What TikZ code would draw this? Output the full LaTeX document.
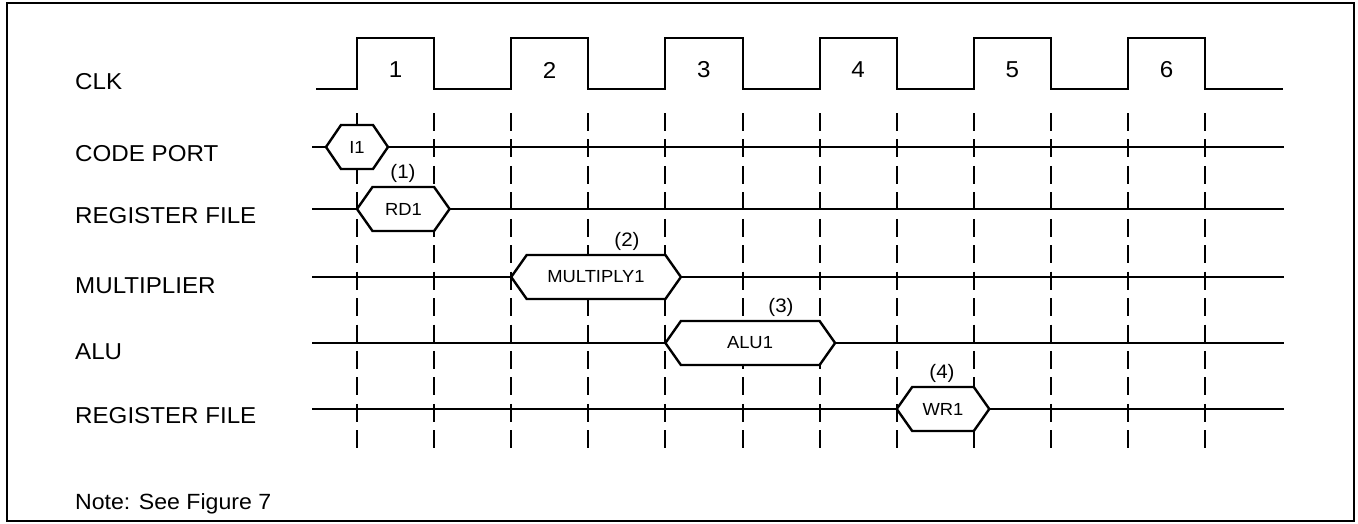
\documentclass[tikz,border=0pt]{standalone}
\usepackage{fontspec}
\setmainfont{Liberation Sans}[FakeStretch=1.05]
\newcommand\tdhex[4][15.5]{%
  \draw[hex] (#2,#4) -- ({#2+#1},{#4-22}) -- (#3,{#4-22}) -- ({#3+#1},#4)
    -- (#3,{#4+22}) -- ({#2+#1},{#4+22}) -- cycle;}
\begin{document}
\begin{tikzpicture}[x=1pt,y=-1pt,
  wire/.style={line width=2pt},
  gridline/.style={line width=2pt, dash pattern=on 18pt off 8.44pt},
  hex/.style={line width=2.4pt, fill=white, line join=miter},
  lbl/.style={anchor=base west, inner sep=0pt, font=\fontsize{23}{27}\selectfont},
  notestyle/.style={anchor=base west, inner sep=0pt, font=\fontsize{22}{26}\selectfont},
  num/.style={inner sep=0pt, font=\fontsize{23}{27}\selectfont},
  tag/.style={inner sep=0pt, font=\fontsize{19.5}{23}\selectfont},
  htext/.style={inner sep=0pt, font=\fontsize{17.5}{21}\selectfont}]
\useasboundingbox (0,0) rectangle (1358,523);
% frame
\draw[line width=2pt] (7,3) rectangle (1354,521);
% dashed clock edges
\foreach \k in {0,...,11}{
  \pgfmathsetmacro\xx{357+77.1*\k}
  \draw[gridline] (\xx,113) -- (\xx,448);
}
% clock waveform
\draw[wire] (316,89) -- (357,89) -- (357,38) -- (434.1,38) -- (434.1,89)
  -- (511.2,89) -- (511.2,38) -- (588.3,38) -- (588.3,89)
  -- (665.4,89) -- (665.4,38) -- (742.5,38) -- (742.5,89)
  -- (819.6,89) -- (819.6,38) -- (896.7,38) -- (896.7,89)
  -- (973.8,89) -- (973.8,38) -- (1050.9,38) -- (1050.9,89)
  -- (1128,89) -- (1128,38) -- (1205.1,38) -- (1205.1,89) -- (1283,89);
\node[num] (c1) at (395.5,70) {1};
\node[num] (c2) at (549.7,70) {2};
\node[num] (c3) at (703.9,70) {3};
\node[num] (c4) at (858.1,70) {4};
\node[num] (c5) at (1012.3,70) {5};
\node[num] (c6) at (1166.5,70) {6};
% signal lines
\foreach \yy in {147,209,277,343,409}{
  \draw[wire] (312,\yy) -- (1284,\yy);
}
% labels
\node[lbl] (lclk) at (75,89) {CLK};
\node[lbl] (lcode) at (75,161) {CODE PORT};
\node[lbl] (lreg) at (75,223) {REGISTER FILE};
\node[lbl] (lmul) at (75,293) {MULTIPLIER};
\node[lbl] (lalu) at (75,359) {ALU};
\node[lbl] (lreg2) at (75,423) {REGISTER FILE};
\node[notestyle] (note) at (75,509) {Note: See Figure 7};
% hexagons
\tdhex[15]{326}{373}{147}
\node[htext] (i1) at (357,147) {I1};
\tdhex{357}{434.1}{209}
\node[htext] (rd1) at (403.5,209) {RD1};
\tdhex{511.2}{665.4}{277}
\node[htext] (mul1) at (596,277) {MULTIPLY1};
\tdhex{665.4}{819.6}{343}
\node[htext] (alu1) at (750,343) {ALU1};
\tdhex{896.7}{973.8}{409}
\node[htext] (wr1) at (943,409) {WR1};
% step tags
\node[tag] (t1) at (403,173) {(1)};
\node[tag] (t2) at (627,241) {(2)};
\node[tag] (t3) at (781,307) {(3)};
\node[tag] (t4) at (942,373) {(4)};
\end{tikzpicture}
\end{document}
